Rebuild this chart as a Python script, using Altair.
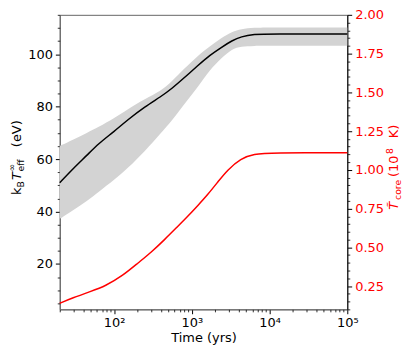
import altair as alt
import pandas as pd

# ---- data ----
time_main = [20, 30, 45, 63, 100, 150, 250, 400, 550, 800, 1200, 1700, 2400, 3300, 4300, 6300, 10000, 100000]
teff = [51.0, 56.5, 61.5, 65.9, 70.5, 75.0, 80.0, 83.8, 86.8, 91.0, 95.7, 99.6, 102.6, 105.2, 106.7, 107.6, 107.7, 107.7]
teff_lo = [37.2, 40.5, 44.0, 47.5, 52.0, 56.5, 63.0, 70.0, 74.5, 81.0, 87.5, 94.0, 98.5, 102.0, 102.9, 103.2, 103.2, 103.2]
teff_hi = [65.0, 67.5, 70.0, 72.2, 75.5, 79.0, 83.0, 86.0, 89.5, 94.5, 99.5, 103.0, 106.2, 108.6, 109.6, 110.1, 110.2, 110.2]

time_core = [20, 29, 50, 77, 130, 204, 300, 447, 650, 887, 1200, 1596, 2200, 2875, 4266, 6310, 10300, 100000]
tcore = [0.139, 0.173, 0.216, 0.25, 0.318, 0.40, 0.468, 0.55, 0.632, 0.70, 0.771, 0.839, 0.927, 0.999, 1.074, 1.102, 1.11, 1.11]

x_major = [100, 1000, 10000, 100000]
x_minor = [m * d for d in (10, 100, 1000, 10000) for m in range(2, 10) if m * d >= 20]
yl_major = [20, 40, 60, 80, 100]
yl_minor = [v for v in range(5, 116, 5) if v not in yl_major]
yr_major = [0.25, 0.5, 0.75, 1.0, 1.25, 1.5, 1.75, 2.0]
yr_minor = [round(0.1 + 0.05 * i, 2) for i in range(0, 39) if round(0.1 + 0.05 * i, 2) not in yr_major]

X_DOM = [20, 100000]
YL_DOM = [2.7, 115]
YR_DOM = [0.1, 2.0]

left_title = ["k", "B", "T", "\u221e", "eff", "(eV)"]
right_title = ["T\u0303", "core", "(10", "8", "K)"]
x_title = "Time (yrs)"

FONT = "DejaVu Sans"
FS = 13
RED = "#ff0000"

df_main = pd.DataFrame({"t": time_main, "teff": teff, "lo": teff_lo, "hi": teff_hi})
df_core = pd.DataFrame({"t": time_core, "tcore": tcore})

xs = alt.Scale(type="log", domain=X_DOM, nice=False)
yls = alt.Scale(domain=YL_DOM, nice=False, zero=False)
yrs = alt.Scale(domain=YR_DOM, nice=False, zero=False)

x_axis_major = alt.Axis(
    orient="bottom", values=x_major, title=x_title, grid=False,
    labelExpr="datum.value == 100 ? '10\u00b2' : datum.value == 1000 ? '10\u00b3' : datum.value == 10000 ? '10\u2074' : '10\u2075'",
    tickSize=4.4, tickColor="black", labelPadding=3, labelFontSize=FS, labelFont=FONT,
    titleFontSize=FS, titleFont=FONT, titleFontWeight="normal", titleColor="black", titlePadding=2,
    labelColor="black", domainColor="#666", labelFlush=False,
)
x_axis_minor = alt.Axis(orient="bottom", values=x_minor, labels=False, title=None, grid=False,
                        tickSize=2.5, tickColor="black", tickWidth=0.8, domain=False)

yl_axis_major = alt.Axis(orient="left", values=yl_major, title=None, grid=False, tickSize=4.4,
                         tickColor="black", labelPadding=3, labelFontSize=FS, labelFont=FONT,
                         labelColor="black", domainColor="#666")
yl_axis_minor = alt.Axis(orient="left", values=yl_minor, labels=False, title=None, grid=False,
                         tickSize=2.5, tickColor="black", tickWidth=0.8, domain=False)
yr_axis_major = alt.Axis(orient="right", values=yr_major, format=".2f", title=None, grid=False,
                         tickSize=4.4, tickColor="black", labelPadding=3, labelFontSize=FS,
                         labelFont=FONT, labelColor=RED, domainColor="black")
yr_axis_minor = alt.Axis(orient="right", values=yr_minor, labels=False, title=None, grid=False,
                         tickSize=2.5, tickColor="black", tickWidth=0.8, domain=False)

band = alt.Chart(df_main).mark_area(color="#d3d3d3", opacity=1, interpolate="basis").encode(
    x=alt.X("t:Q", scale=xs, axis=x_axis_major),
    y=alt.Y("lo:Q", scale=yls, axis=yl_axis_major),
    y2="hi:Q",
)
black = alt.Chart(df_main).mark_line(color="black", strokeWidth=1.5, interpolate="basis").encode(
    x=alt.X("t:Q", scale=xs, axis=x_axis_minor),
    y=alt.Y("teff:Q", scale=yls, axis=yl_axis_minor),
)
red = alt.Chart(df_core).mark_line(color=RED, strokeWidth=1.5, interpolate="basis").encode(
    x=alt.X("t:Q", scale=xs, axis=None),
    y=alt.Y("tcore:Q", scale=yrs, axis=yr_axis_major),
)
red_minor = alt.Chart(df_core).mark_line(opacity=0).encode(
    x=alt.X("t:Q", scale=xs, axis=None),
    y=alt.Y("tcore:Q", scale=yrs, axis=yr_axis_minor),
)


def piece(txt, x, y, dx, dy, size, color, italic=False):
    kw = dict(angle=270, align="left", baseline="alphabetic", font=FONT, fontSize=size,
              color=color, dx=dx, dy=dy)
    if italic:
        kw["fontStyle"] = "italic"
    return alt.Chart(pd.DataFrame({"s": [txt]})).mark_text(**kw).encode(
        text="s:N", x=alt.value(x), y=alt.value(y))


SUB = 9.3
LX, LY = -39, 181
lt = [
    piece(left_title[0], LX, LY, 0, 0, FS, "black"),
    piece(left_title[1], LX, LY, 7.5, 3, SUB, "black"),
    piece(left_title[2], LX, LY, 15, 0, FS, "black", italic=True),
    piece(left_title[3], LX, LY, 23.5, -5.5, SUB, "black"),
    piece(left_title[4], LX, LY, 23.5, 3, SUB, "black"),
    piece(left_title[5], LX, LY, 48, 0, FS, "black"),
]
RX, RY = 340, 196
rt = [
    piece(right_title[0], RX, RY, 0, 0, FS, RED, italic=True),
    piece(right_title[1], RX, RY, 10, 3, SUB, RED),
    piece(right_title[2], RX, RY, 33, 0, FS, RED),
    piece(right_title[3], RX, RY, 56, -5.5, SUB, RED),
    piece(right_title[4], RX, RY, 72, 0, FS, RED),
]

chart = alt.layer(band, black, red, red_minor, *lt, *rt).resolve_scale(
    x="independent", y="independent"
).properties(
    width=289, height=296,
    padding={"left": 52, "top": 6, "right": 60, "bottom": 40},
    autosize=alt.AutoSizeParams(type="none"),
).configure_view(stroke="#666", strokeWidth=1).configure_axis(labelFont=FONT, titleFont=FONT)

chart.save("out.html", embed_options={"renderer": "svg", "actions": False})
